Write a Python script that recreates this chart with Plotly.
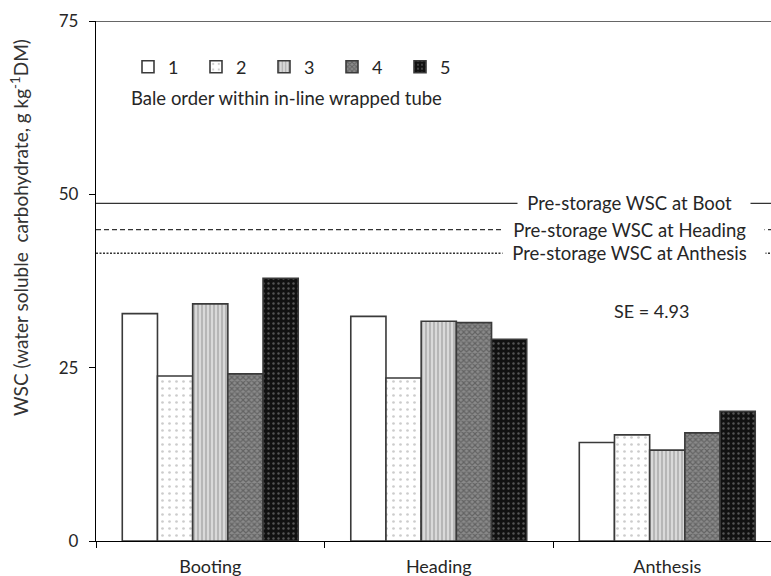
import plotly.graph_objects as go

# Growth stage at harvest (x categories)
stages = ["Booting", "Heading", "Anthesis"]

# WSC after storage, g kg-1 DM, by bale order within the wrapped tube
bale_names = ["1", "2", "3", "4", "5"]
bale1 = [32.8, 32.4, 14.2]
bale2 = [23.8, 23.5, 15.3]
bale3 = [34.2, 31.7, 13.1]
bale4 = [24.1, 31.5, 15.6]
bale5 = [37.9, 29.1, 18.7]

# Pre-storage WSC reference levels
prestorage_labels = ["Pre-storage WSC at Boot", "Pre-storage WSC at Heading",
                     "Pre-storage WSC at Anthesis"]
prestorage_values = [48.7, 44.9, 41.5]
prestorage_dash = ["solid", "5px,3px", "2px,1.5px"]

se_text = "SE = 4.93"
y_ticks = [0, 25, 50, 75]

FONT = "Lato, 'Open Sans', sans-serif"
TXT = "#262626"
EDGE = "#3a3a3a"

# plot area in pixels: left 96, width 675; bottom 541, height 520
def px_x(p):
    return (p - 96) / 675

def px_y(p):
    return (541 - p) / 520

patterns = [
    dict(shape="", bgcolor="white", fgcolor="white"),
    dict(shape=".", bgcolor="white", fgcolor="#9a9a9a", size=7, solidity=0.12),
    dict(shape="|", bgcolor="#d9d9d9", fgcolor="#8c8c8c", size=4, solidity=0.45),
    dict(shape="x", bgcolor="#8a8a8a", fgcolor="#3c3c3c", size=4, solidity=0.5),
    dict(shape=".", bgcolor="#111111", fgcolor="#9a9a9a", size=5, solidity=0.18),
]
series = [bale1, bale2, bale3, bale4, bale5]

fig = go.Figure()
for name, vals, pat in zip(bale_names, series, patterns):
    fig.add_trace(go.Bar(
        x=stages, y=vals, name=name,
        marker=dict(color=pat["bgcolor"], pattern=pat,
                    line=dict(color=EDGE, width=1.6)),
    ))

# Reference lines; each label sits in a white gap cut out of its line
for lab, val, dsh in zip(prestorage_labels, prestorage_values, prestorage_dash):
    fig.add_shape(type="line", xref="paper", yref="y", x0=0, x1=1, y0=val, y1=val,
                  line=dict(color="#333333", width=1.3, dash=dsh), layer="below")
    fig.add_annotation(x=px_x(634), xref="paper", y=val, yref="y",
                       xanchor="center", yanchor="middle",
                       text="\u2002" + lab + "\u2002\u2002", showarrow=False,
                       bgcolor="white", borderpad=0,
                       font=dict(family=FONT, size=18.5, color=TXT))

# Top frame line
fig.add_shape(type="line", xref="paper", yref="y", x0=0, x1=1, y0=75, y1=75,
              line=dict(color="#666666", width=2))

fig.add_annotation(x=px_x(651), xref="paper", y=px_y(311), yref="paper",
                   xanchor="center", yanchor="middle",
                   text=se_text, showarrow=False,
                   font=dict(family=FONT, size=18, color=TXT))

fig.add_annotation(x=px_x(286), xref="paper", y=px_y(98), yref="paper",
                   xanchor="center", yanchor="middle",
                   text="Bale order within in-line wrapped tube", showarrow=False,
                   font=dict(family=FONT, size=18.5, color=TXT))

fig.add_annotation(x=px_x(19), xref="paper", y=px_y(228), yref="paper",
                   xanchor="center", yanchor="middle",
                   text="WSC (water soluble\u00a0 carbohydrate, g kg<sup>-1</sup>DM)",
                   textangle=-90, showarrow=False,
                   font=dict(family=FONT, size=19, color="#333333"))

fig.update_layout(
    width=771, height=576,
    margin=dict(l=96, r=0, t=21, b=35),
    paper_bgcolor="white", plot_bgcolor="white",
    barmode="group", bargap=0.23, bargroupgap=0,
    font=dict(family=FONT, size=16, color=TXT),
    showlegend=True,
    legend=dict(orientation="h", x=px_x(128), xanchor="left",
                y=px_y(67), yanchor="middle",
                entrywidth=23, entrywidthmode="pixels",
                itemwidth=30, traceorder="normal",
                bgcolor="rgba(0,0,0,0)",
                font=dict(family=FONT, size=18, color=TXT)),
    xaxis=dict(type="category", range=[-0.5, 2.454], showline=True,
               linecolor="black", linewidth=1.3, ticks="outside",
               tickson="boundaries", ticklen=6, tickcolor="black",
               showgrid=False, ticklabelstandoff=9,
               tickfont=dict(family=FONT, size=18, color=TXT)),
    yaxis=dict(range=[0, 75], tickvals=y_ticks, showline=True,
               linecolor="black", linewidth=1.3, ticks="outside",
               ticklen=6, tickcolor="black", showgrid=False, zeroline=False,
               ticklabelstandoff=7,
               tickfont=dict(family=FONT, size=17, color=TXT)),
)

fig.write_html("out.html")
